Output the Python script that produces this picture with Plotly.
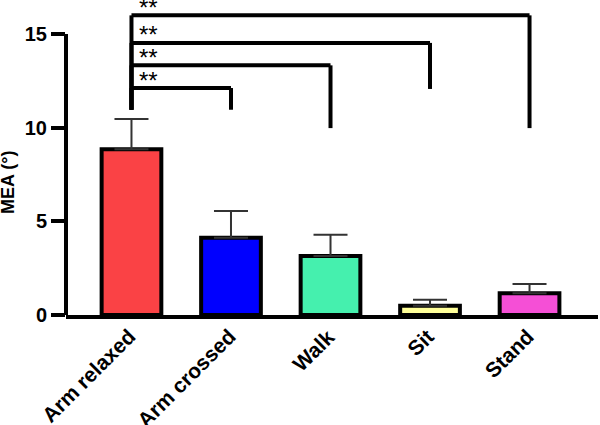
import plotly.graph_objects as go

categories = ["Arm relaxed", "Arm crossed", "Walk", "Sit", "Stand"]
means = [8.85, 4.12, 3.15, 0.50, 1.16]
errors = [1.62, 1.43, 1.14, 0.32, 0.50]
colors = ["#FA4245", "#0000FF", "#45F0AE", "#FFFF99", "#F54FD6"]

# significance brackets: reference group index 0 vs target
bracket_targets = [1, 2, 3, 4]
bracket_levels = [12.12, 13.33, 14.53, 16.0]
bracket_right_bottoms = [10.96, 9.98, 12.07, 9.98]
bracket_left_bottom = 10.96
bracket_labels = ["**", "**", "**", "**"]

y_ticks = [0, 5, 10, 15]
y_axis_top = 15
y_title = "MEA (°)"

FONT = "Liberation Sans, Arial, sans-serif"

fig = go.Figure()
fig.add_trace(go.Bar(
    x=list(range(len(categories))),
    y=means,
    width=0.6,
    marker=dict(color=colors, line=dict(color="black", width=4)),
    error_y=dict(type="data", array=errors, arrayminus=[0] * len(errors),
                 symmetric=False, color="#333333", thickness=2, width=17),
    hoverinfo="skip",
))

shapes = []
# y axis line only up to last tick
shapes.append(dict(type="line", xref="paper", yref="y", x0=0, x1=0,
                   y0=0, y1=y_axis_top, line=dict(color="black", width=4)))
annotations = []
for t, lvl, rb, lab in zip(bracket_targets, bracket_levels, bracket_right_bottoms, bracket_labels):
    shapes.append(dict(type="line", xref="x", yref="y", x0=0, x1=0, y0=bracket_left_bottom, y1=lvl,
                       line=dict(color="black", width=4)))
    shapes.append(dict(type="line", xref="x", yref="y", x0=0, x1=t, y0=lvl, y1=lvl,
                       line=dict(color="black", width=4)))
    shapes.append(dict(type="line", xref="x", yref="y", x0=t, x1=t, y0=rb, y1=lvl,
                       line=dict(color="black", width=4)))
    annotations.append(dict(x=0, y=lvl, xref="x", yref="y", text=lab, showarrow=False,
                            xanchor="left", yanchor="middle", xshift=6, yshift=8,
                            font=dict(family=FONT, size=24, color="black")))

# category labels, rotated
for i, c in enumerate(categories):
    annotations.append(dict(x=i, y=0, xref="x", yref="y", text="<b>%s</b>" % c,
                            showarrow=False, textangle=-45, xanchor="right", yanchor="top",
                            xshift=11, yshift=-7,
                            font=dict(family=FONT, size=21, color="black")))

annotations.append(dict(x=0, y=7.1, xref="paper", yref="y", text="<b>%s</b>" % y_title,
                        showarrow=False, textangle=-90, xanchor="center", yanchor="middle",
                        xshift=-58, font=dict(family=FONT, size=18, color="black")))

fig.update_layout(
    width=600, height=425,
    margin=dict(l=66, r=2, t=0, b=110),
    plot_bgcolor="white", paper_bgcolor="white",
    showlegend=False,
    shapes=shapes, annotations=annotations,
    xaxis=dict(
        range=[-0.658, 4.688], showline=True, linecolor="black", linewidth=4,
        ticks="", showticklabels=False, showgrid=False, zeroline=False, automargin=False,
    ),
    yaxis=dict(
        range=[0, 16.82], tickvals=y_ticks, showline=False, ticks="outside",
        ticklen=14, tickwidth=3.5, tickcolor="black", showgrid=False, zeroline=False,
        automargin=False,
        tickfont=dict(family=FONT, size=20, color="black", weight="bold"),
    ),
)

fig.write_html("out.html", config={"displayModeBar": False},
               post_script="document.body.style.margin='0';")
